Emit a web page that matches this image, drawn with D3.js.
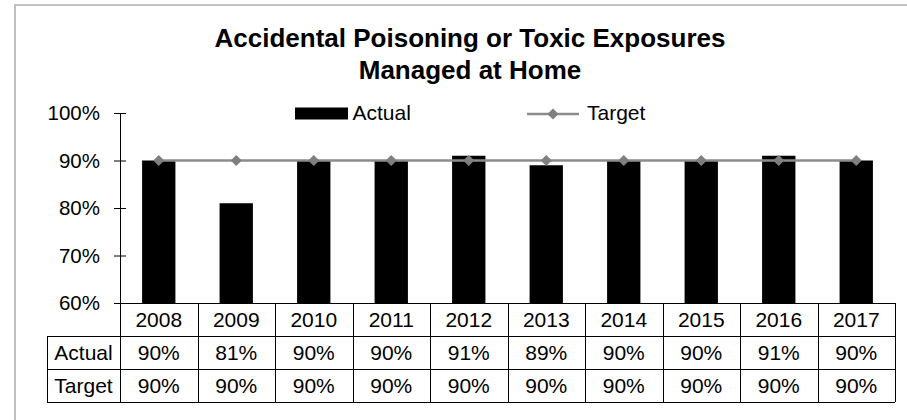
<!DOCTYPE html>
<html><head><meta charset="utf-8">
<script src="https://cdn.jsdelivr.net/npm/d3@7"></script>
<style>
html,body{margin:0;padding:0;background:#fff;}
svg{display:block;font-family:"Liberation Sans",Arial,sans-serif;}
</style></head>
<body>
<svg id="chart" width="907" height="420"></svg>
<script>
const years = ["2008","2009","2010","2011","2012","2013","2014","2015","2016","2017"];
const actual = [90,81,90,90,91,89,90,90,91,90];
const target = [90,90,90,90,90,90,90,90,90,90];
const yTicks = [60,70,80,90,100];
const titleLines = ["Accidental Poisoning or Toxic Exposures","Managed at Home"];
const seriesNames = ["Actual","Target"];

const svg = d3.select("#chart");
const pLeft = 120, pRight = 895, pTop = 113, pBottom = 303;
const rowH = 33;
const fs = 21;

// outer border
svg.append("rect").attr("x",15).attr("y",5).attr("width",930).attr("height",440)
  .attr("fill","none").attr("stroke","#c0c0c0").attr("stroke-width",2);

// title
const title = svg.append("text").attr("text-anchor","middle").attr("font-weight","bold")
  .attr("font-size",26).attr("fill","#000");
titleLines.forEach((t,i)=>title.append("tspan").attr("x",470).attr("y",47+i*31.5).text(t));

const x = d3.scaleBand().domain(years).range([pLeft,pRight]).padding(0);
const y = d3.scaleLinear().domain([60,100]).range([pBottom,pTop]);
const bw = x.bandwidth();
const barW = bw*0.43;

// bars
svg.append("g").selectAll("rect").data(years).join("rect")
  .attr("x",d=>x(d)+(bw-barW)/2)
  .attr("y",(d,i)=>y(actual[i]))
  .attr("width",barW)
  .attr("height",(d,i)=>y(60)-y(actual[i]))
  .attr("fill","#000");

// target line
const line = d3.line().x((d,i)=>x(years[i])+bw/2).y(d=>y(d));
svg.append("path").datum(target).attr("d",line).attr("fill","none")
  .attr("stroke","#8c8c8c").attr("stroke-width",2.5);
svg.append("g").selectAll("path").data(target).join("path")
  .attr("d",d3.symbol().type(d3.symbolSquare).size(60))
  .attr("transform",(d,i)=>`translate(${x(years[i])+bw/2},${y(d)}) rotate(45)`)
  .attr("fill","#7f7f7f");

// y axis
const yAxis = d3.axisLeft(y).tickValues(yTicks).tickFormat(d=>d+"%")
  .tickSizeInner(6).tickSizeOuter(0).tickPadding(14);
const ga = svg.append("g").attr("transform",`translate(${pLeft},0)`).call(yAxis);
ga.select(".domain").attr("stroke","#000");
ga.selectAll(".tick line").attr("stroke","#000");
ga.selectAll(".tick").append("line").attr("x1",0).attr("x2",6).attr("stroke","#000");
ga.selectAll(".tick text").attr("font-size",20.5).attr("font-family","Liberation Sans, Arial, sans-serif").attr("fill","#000");

// data table
const tbl = svg.append("g").attr("stroke","#000").attr("stroke-width",1).attr("shape-rendering","crispEdges");
const labX = 47;
tbl.append("line").attr("x1",pLeft).attr("x2",pRight).attr("y1",pBottom+0.5).attr("y2",pBottom+0.5);
[1,2,3].forEach(r=>{
  tbl.append("line").attr("x1",labX).attr("x2",pRight).attr("y1",pBottom+rowH*r).attr("y2",pBottom+rowH*r);
});
tbl.append("line").attr("x1",labX).attr("x2",labX).attr("y1",pBottom+rowH).attr("y2",pBottom+rowH*3);
years.forEach(d=>{
  tbl.append("line").attr("x1",Math.round(x(d))).attr("x2",Math.round(x(d))).attr("y1",pBottom).attr("y2",pBottom+rowH*3);
});
tbl.append("line").attr("x1",pRight).attr("x2",pRight).attr("y1",pBottom).attr("y2",pBottom+rowH*3);

const tt = svg.append("g").attr("font-size",fs).attr("fill","#000").attr("text-anchor","middle");
tt.selectAll("text.yr").data(years).join("text").attr("class","yr")
  .attr("x",d=>x(d)+bw/2).attr("y",pBottom+rowH*0.5+7.5).text(d=>d);
[actual,target].forEach((arr,r)=>{
  tt.append("g").selectAll("text").data(arr).join("text")
    .attr("x",(d,i)=>x(years[i])+bw/2).attr("y",pBottom+rowH*(r+1.5)+7).text(d=>d+"%");
  tt.append("text").attr("x",(labX+pLeft)/2).attr("y",pBottom+rowH*(r+1.5)+7).text(seriesNames[r]);
});

// legend
const lg = svg.append("g");
lg.append("rect").attr("x",295).attr("y",107.5).attr("width",53).attr("height",12).attr("fill","#000");
lg.append("text").attr("x",352.5).attr("y",120).attr("font-size",fs).text(seriesNames[0]);
lg.append("line").attr("x1",527).attr("x2",579).attr("y1",114).attr("y2",114).attr("stroke","#8c8c8c").attr("stroke-width",2.5);
lg.append("path").attr("d",d3.symbol().type(d3.symbolSquare).size(60))
  .attr("transform","translate(553,114) rotate(45)").attr("fill","#7f7f7f");
lg.append("text").attr("x",587).attr("y",120).attr("font-size",fs).text(seriesNames[1]);
</script>
</body></html>
